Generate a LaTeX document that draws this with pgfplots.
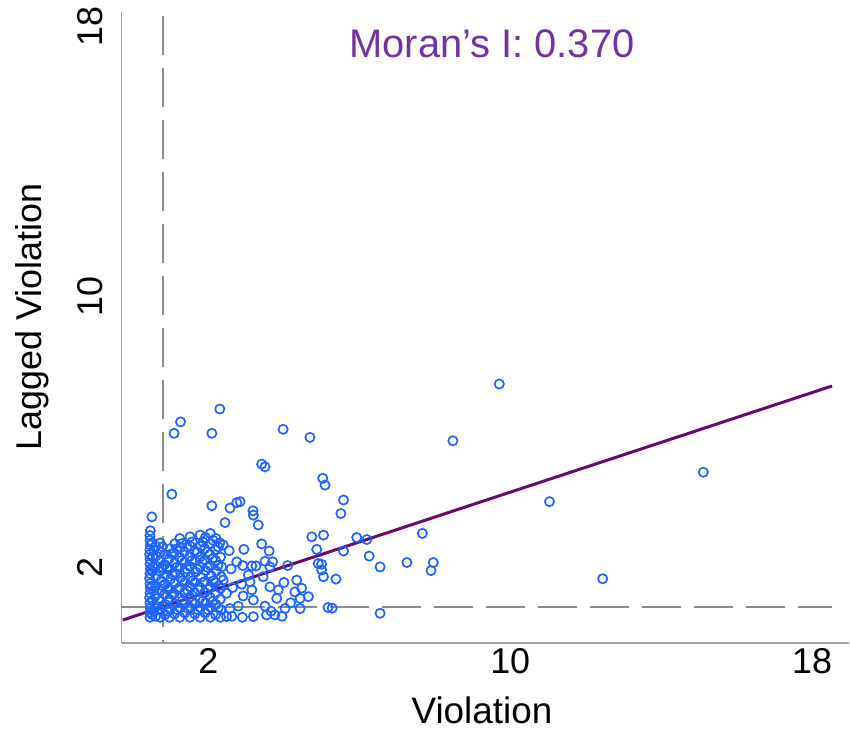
\documentclass[border=0pt]{standalone}
\usepackage{pgfplots}
\pgfplotsset{compat=1.18}
\usepackage{fontspec}
\setmainfont{Liberation Sans}
\definecolor{ptblue}{RGB}{30,100,255}
\definecolor{regline}{RGB}{105,10,110}
\definecolor{titlecol}{RGB}{115,50,160}
\definecolor{spine}{RGB}{160,160,160}
\definecolor{dashcol}{RGB}{140,140,140}
\begin{document}
\begin{tikzpicture}
\useasboundingbox (0,0) rectangle (850bp,731bp);
\begin{axis}[
  at={(121.5bp,88bp)}, anchor=south west,
  scale only axis, width=727.5bp, height=631bp,
  xmin=-0.305, xmax=18.98, ymin=-0.24, ymax=18.42,
  axis x line*=bottom, axis y line*=left,
  axis line style={draw=spine, line width=1.4bp},
  major tick length=0pt,
  xtick={2,10,18}, xticklabels={2,10,18},
  ytick={2,10,18}, yticklabels={2,10,18},
  tick label style={font=\fontsize{36}{40}\selectfont, text=black},
  xticklabel style={anchor=north, inner sep=0pt},
  xticklabel shift=5bp,
  yticklabel style={rotate=90, anchor=south, inner sep=0pt},
  yticklabel shift=18.5bp,
]
\addplot[only marks, mark=o, mark size=4.6bp,
  mark options={draw=ptblue, line width=1.7bp}] coordinates {
(9.71,7.42) (8.48,5.74) (15.12,4.81) (11.04,3.94) (12.45,1.66)
(2.30,6.68) (1.26,6.30) (1.09,5.96) (2.09,5.96) (3.98,6.08) (4.69,5.84)
(3.41,5.05) (3.50,4.97) (5.03,4.63) (5.09,4.43) (1.03,4.16)
(2.09,3.82) (2.84,3.94) (2.57,3.75) (3.18,3.67) (5.58,3.99) (5.51,3.59)
(5.05,2.95) (5.93,2.88) (6.20,2.82) (5.58,2.48) (7.67,3.00) (6.26,2.33)
(6.55,2.01) (7.26,2.14) (7.96,2.14) (7.90,1.90) (5.00,2.09) (5.05,1.72)
(5.38,1.65) (5.28,0.79) (6.55,0.64) (2.75,3.91) (3.32,3.25) (2.44,3.32)
(0.50,3.49) (3.19,3.54) (2.39,2.66) (2.55,2.49) (2.94,2.53) (3.41,2.69)
(3.61,2.48) (2.35,2.01) (2.75,2.16) (3.15,2.04) (3.26,2.04) (3.50,2.18)
(3.70,2.16) (3.63,2.01) (4.74,2.90) (4.87,2.53) (4.91,2.11) (5.00,1.92)
(3.06,1.77) (3.10,1.57) (3.15,1.33) (3.19,1.03) (3.45,1.72) (3.63,1.42)
(3.85,1.33) (3.81,1.08) (4.34,1.62) (4.29,1.27) (4.47,1.38) (4.43,1.08)
(4.65,1.13) (4.03,0.78) (4.43,0.78) (3.19,0.54) (3.54,0.59) (3.76,0.59)
(2.39,1.62) (2.48,1.23) (2.57,0.78) (2.48,0.54) (2.79,0.85) (5.17,0.81)
(4.10,2.05) (4.00,1.55) (4.18,0.95) (3.95,0.55) (3.50,0.85) (3.66,0.70)
(2.30,2.72) (2.62,0.55) (2.64,1.40) (2.60,1.95) (2.90,0.52) (2.92,1.15)
(2.88,1.50) (2.91,2.05)
(0.45,0.52) (0.45,0.66) (0.46,0.80) (0.45,0.95) (0.44,1.10) (0.45,1.24)
(0.46,1.38) (0.45,1.52) (0.44,1.67) (0.45,1.81) (0.46,1.95) (0.45,2.10)
(0.45,2.24) (0.44,2.38) (0.45,2.52) (0.46,2.66) (0.45,2.80) (0.45,2.94)
(0.46,3.08)
(0.51,0.60) (0.52,1.00) (0.50,1.45) (0.51,1.88) (0.52,2.30) (0.50,2.72)
(0.60,0.55) (0.61,0.85) (0.59,1.15) (0.60,1.45) (0.62,1.74) (0.60,2.04)
(0.61,2.33) (0.60,2.62)
(0.72,0.52) (0.73,0.72) (0.71,1.00) (0.72,1.30) (0.74,1.60) (0.72,1.88)
(0.71,2.18) (0.73,2.45) (0.72,2.72)
(0.85,0.60) (0.86,0.90) (0.84,1.20) (0.85,1.50) (0.86,1.78) (0.84,2.08)
(0.85,2.38)
(0.97,0.52) (0.98,0.78) (0.96,1.05) (0.97,1.36) (0.99,1.65) (0.97,1.95)
(0.96,2.25) (0.98,2.55)
(1.10,0.62) (1.11,0.92) (1.09,1.22) (1.10,1.52) (1.12,1.82) (1.10,2.12)
(1.09,2.42) (1.11,2.70)
(1.24,0.52) (1.25,0.80) (1.23,1.10) (1.24,1.40) (1.26,1.70) (1.24,2.00)
(1.23,2.30) (1.25,2.58) (1.24,2.85)
(1.37,0.65) (1.38,0.95) (1.36,1.25) (1.37,1.55) (1.39,1.85) (1.37,2.15)
(1.36,2.45)
(1.51,0.52) (1.52,0.80) (1.50,1.12) (1.51,1.42) (1.53,1.72) (1.51,2.02)
(1.50,2.32) (1.52,2.62) (1.51,2.90)
(1.64,0.62) (1.65,0.92) (1.63,1.25) (1.64,1.55) (1.66,1.86) (1.64,2.18)
(1.63,2.48)
(1.78,0.52) (1.79,0.80) (1.77,1.08) (1.78,1.40) (1.80,1.70) (1.78,2.00)
(1.77,2.30) (1.79,2.62) (1.78,2.95)
(1.91,0.65) (1.92,0.95) (1.90,1.25) (1.91,1.58) (1.93,1.90) (1.91,2.22)
(1.90,2.55) (1.92,2.88)
(2.05,0.52) (2.06,0.82) (2.04,1.12) (2.05,1.42) (2.07,1.75) (2.05,2.05)
(2.04,2.38) (2.06,2.70) (2.05,3.00)
(2.19,0.60) (2.20,0.90) (2.18,1.22) (2.19,1.55) (2.21,1.88) (2.19,2.20)
(2.18,2.52) (2.20,2.85)
(2.32,0.52) (2.33,0.75) (2.31,1.05) (2.32,1.38) (2.34,1.72) (2.32,2.30)
(0.54,0.70) (0.55,1.30) (0.53,2.00) (0.55,2.50)
(0.78,0.85) (0.79,1.45) (0.77,2.00) (0.78,2.60)
(0.91,0.70) (0.92,1.35) (0.90,1.95)
(1.03,1.20) (1.04,1.80) (1.02,2.40)
(1.17,0.75) (1.18,1.35) (1.16,2.00) (1.17,2.55)
(1.30,1.00) (1.31,1.60) (1.29,2.20) (1.30,2.70)
(1.44,0.80) (1.45,1.30) (1.43,1.95) (1.44,2.60)
(1.57,1.00) (1.58,1.60) (1.56,2.20) (1.57,2.75)
(1.71,0.75) (1.72,1.35) (1.70,1.95) (1.71,2.45)
(1.85,1.00) (1.86,1.55) (1.84,2.15) (1.85,2.75)
(1.98,0.75) (1.99,1.35) (1.97,2.00) (1.98,2.45)
(2.12,1.00) (2.13,1.60) (2.11,2.25) (2.12,2.80)
(2.26,0.80) (2.27,1.45) (2.25,2.05) (2.26,2.60)
};
\addplot[draw=dashcol, line width=1.6bp, dash pattern=on 39bp off 13bp]
  coordinates {(-0.305,0.82) (18.53,0.82)};
\addplot[draw=dashcol, line width=1.6bp, dash pattern=on 39bp off 13bp]
  coordinates {(0.79,18.3) (0.79,-0.24)};
\addplot[draw=regline, line width=3bp] coordinates {(-0.27,0.44) (18.53,7.36)};
\end{axis}
\node[anchor=base, inner sep=0pt, text=titlecol, font=\fontsize{40}{44}\selectfont] at (492bp,673bp) {Moran’s I: 0.370};
\node[anchor=base, inner sep=0pt, font=\fontsize{37}{41}\selectfont] at (482bp,8bp) {Violation};
\node[anchor=base, inner sep=0pt, rotate=90, font=\fontsize{36}{40}\selectfont] at (41bp,414bp) {Lagged Violation};
\end{tikzpicture}
\end{document}
